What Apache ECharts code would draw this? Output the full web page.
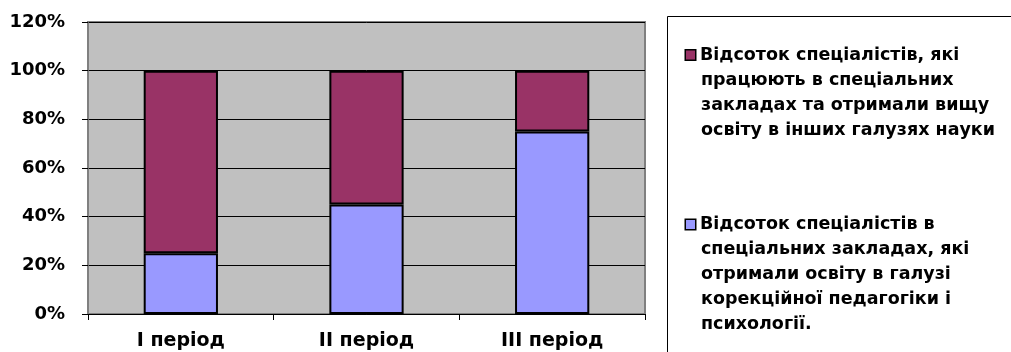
<!DOCTYPE html>
<html>
<head>
<meta charset="utf-8">
<script src="https://cdn.jsdelivr.net/npm/echarts@6/dist/echarts.min.js"></script>
<style>
  html, body { margin: 0; padding: 0; background: #fff; }
  #chart { width: 1011px; height: 352px; }
</style>
</head>
<body>
<div id="chart"></div>
<script>
// Periods on the horizontal axis
const periods = ['I період', 'II період', 'III період'];

// Share of specialists (percent) per period
const correctionalEducation = [25, 45, 75];   // trained in correctional pedagogy and psychology
const otherFields = [75, 55, 25];             // higher education in other fields of science

// Value axis ticks
const yMin = 0, yMax = 120, yStep = 20;

const nameOther = 'Відсоток спеціалістів, які\nпрацюють в спеціальних\nзакладах та отримали вищу\nосвіту в інших галузях науки';
const nameCorrectional = 'Відсоток спеціалістів в\nспеціальних закладах, які\nотримали освіту в галузі\nкорекційної педагогіки і\nпсихології.';

const COLOR_CORR = '#9999FF';
const COLOR_OTHER = '#993366';
const FONT = 'DejaVu Sans';
const LINE_H = 25;

const chart = echarts.init(document.getElementById('chart'), null, { renderer: 'canvas' });

// Legend entry: square marker sits on the first line, the rest is indented
function legendFor(name, color, firstLineTop) {
  const text = { fontFamily: FONT, fontWeight: 'bold', fontSize: 17.5, lineHeight: LINE_H, color: '#000' };
  return {
    data: [name],
    orient: 'vertical',
    left: 680,
    top: firstLineTop,
    padding: 0,
    icon: 'rect',
    itemWidth: 0,
    itemHeight: 0,
    itemGap: 0,
    selectedMode: false,
    formatter: function (n) {
      return n.split('\n').map(function (line, i) {
        return (i === 0 ? '{m|}' : '{s|}') + '{g|}{t|' + line + '}';
      }).join('\n');
    },
    textStyle: {
      fontFamily: FONT,
      fontWeight: 'bold',
      fontSize: 17.5,
      lineHeight: LINE_H,
      rich: {
        m: { width: 9, height: 9, lineHeight: LINE_H, backgroundColor: color, borderColor: '#000', borderWidth: 1.5 },
        s: { width: 10, height: 10, lineHeight: LINE_H },
        g: { width: 5, lineHeight: LINE_H },
        t: text
      }
    }
  };
}

chart.setOption({
  animation: false,
  backgroundColor: '#fff',
  graphic: [{
    type: 'rect',
    z: -1,
    shape: { x: 667.5, y: 16.5, width: 400, height: 400 },
    style: { fill: '#fff', stroke: '#000', lineWidth: 1 }
  }],
  legend: [
    legendFor(nameOther, COLOR_OTHER, 42.5),
    legendFor(nameCorrectional, COLOR_CORR, 212)
  ],
  grid: {
    left: 88,
    right: 366,
    top: 22,
    bottom: 38,
    show: true,
    backgroundColor: '#C0C0C0',
    borderColor: '#808080',
    borderWidth: 2
  },
  xAxis: {
    type: 'category',
    data: periods,
    axisLine: { lineStyle: { color: '#000', width: 1 } },
    axisTick: { show: true, length: 6, lineStyle: { color: '#000' } },
    axisLabel: {
      margin: 18,
      fontFamily: FONT,
      fontWeight: 'bold',
      fontSize: 19,
      color: '#000'
    }
  },
  yAxis: {
    type: 'value',
    min: yMin,
    max: yMax,
    interval: yStep,
    axisLine: { show: true, lineStyle: { color: '#808080', width: 1.5 } },
    axisTick: { show: true, length: 6, lineStyle: { color: '#000' } },
    splitLine: { show: true, lineStyle: { color: '#000', width: 1 } },
    axisLabel: {
      margin: 23,
      formatter: '{value}%',
      fontFamily: FONT,
      fontWeight: 'bold',
      fontSize: 18,
      color: '#000'
    }
  },
  series: [
    {
      name: nameCorrectional,
      type: 'bar',
      stack: 'total',
      barWidth: '40%',
      data: correctionalEducation,
      itemStyle: { color: COLOR_CORR, borderColor: '#000', borderWidth: 2 }
    },
    {
      name: nameOther,
      type: 'bar',
      stack: 'total',
      barWidth: '40%',
      data: otherFields,
      itemStyle: { color: COLOR_OTHER, borderColor: '#000', borderWidth: 2 }
    }
  ]
});
</script>
</body>
</html>
